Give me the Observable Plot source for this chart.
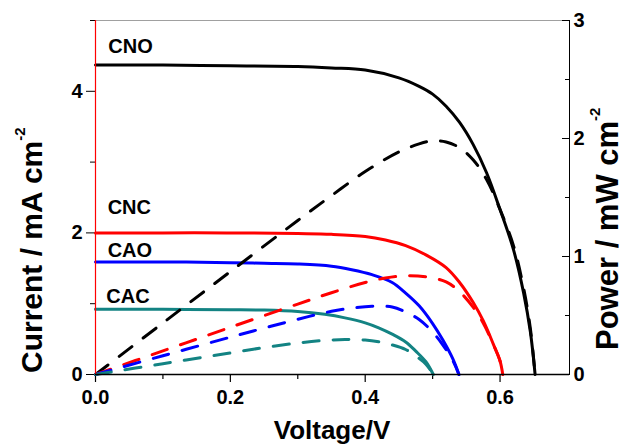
<!DOCTYPE html>
<html><head><meta charset="utf-8">
<script src="https://cdn.jsdelivr.net/npm/d3@7"></script>
<script src="https://cdn.jsdelivr.net/npm/@observablehq/plot@0.6"></script>
<style>body{margin:0;background:#fff}</style>
</head><body><div id="chart"></div>
<script>
// ---- data ----
const seriesNames = ["CNO", "CNC", "CAO", "CAC"];
const seriesColors = ["#000000", "#ff0000", "#0000ff", "#138383"];

const cnoV = [0, 0.1, 0.2, 0.3, 0.35, 0.4, 0.45, 0.48, 0.5, 0.52, 0.54, 0.56, 0.58, 0.6, 0.62, 0.635, 0.645, 0.652];
const cnoJ = [4.37, 4.37, 4.36, 4.35, 4.33, 4.30, 4.19, 4.07, 3.96, 3.79, 3.56, 3.25, 2.85, 2.33, 1.76, 1.15, 0.60, 0];
const cnoP = [0, 0.437, 0.872, 1.305, 1.516, 1.72, 1.886, 1.954, 1.98, 1.971, 1.922, 1.82, 1.653, 1.398, 1.09, 0.73, 0.387, 0];

const cncV = [0, 0.1, 0.2, 0.3, 0.35, 0.4, 0.43, 0.46, 0.49, 0.52, 0.54, 0.56, 0.575, 0.59, 0.6, 0.604];
const cncJ = [2.0, 2.0, 2.0, 1.99, 1.98, 1.95, 1.90, 1.82, 1.69, 1.51, 1.30, 1.02, 0.76, 0.43, 0.19, 0];
const cncP = [0, 0.2, 0.4, 0.597, 0.693, 0.78, 0.817, 0.837, 0.828, 0.785, 0.702, 0.571, 0.437, 0.254, 0.114, 0];

const caoV = [0, 0.1, 0.2, 0.25, 0.3, 0.35, 0.38, 0.41, 0.44, 0.46, 0.48, 0.5, 0.515, 0.53, 0.539];
const caoJ = [1.59, 1.59, 1.58, 1.57, 1.56, 1.53, 1.48, 1.41, 1.30, 1.15, 0.97, 0.72, 0.49, 0.22, 0];
const caoP = [0, 0.159, 0.316, 0.393, 0.468, 0.536, 0.562, 0.578, 0.572, 0.529, 0.466, 0.36, 0.252, 0.117, 0];

const cacV = [0, 0.1, 0.2, 0.25, 0.3, 0.34, 0.37, 0.4, 0.42, 0.44, 0.46, 0.475, 0.49, 0.501];
const cacJ = [0.92, 0.92, 0.915, 0.91, 0.89, 0.85, 0.80, 0.73, 0.66, 0.57, 0.46, 0.33, 0.18, 0];
const cacP = [0, 0.092, 0.183, 0.228, 0.267, 0.289, 0.296, 0.292, 0.277, 0.251, 0.212, 0.157, 0.088, 0];

const labelV = [0.019, 0.018, 0.018, 0.016];
const labelJ = [4.535, 2.27, 1.66, 1.01];

const xTicks = [0, 0.2, 0.4, 0.6];
const xMinor = [0.1, 0.3, 0.5];
const yTicks = [0, 2, 4];
const yMinor = [1, 3, 5];
const pTicks = [0, 1, 2, 3];
const pMinor = [0.5, 1.5, 2.5];
const xMax = 0.703, jMax = 5, pMax = 3;
const p2j = jMax / pMax; // right (power) axis mapped onto the current axis

// ---- tables ----
const allV = [cnoV, cncV, caoV, cacV];
const allJ = [cnoJ, cncJ, caoJ, cacJ];
const allP = [cnoP, cncP, caoP, cacP];
const jRows = [], pRows = [];
seriesNames.forEach((s, i) => {
  allV[i].forEach((v, k) => {
    jRows.push({s, v, y: allJ[i][k]});
    pRows.push({s, v, y: allP[i][k] * p2j});
  });
});
const labels = seriesNames.map((s, i) => ({s, v: labelV[i], y: labelJ[i]}));

const plot = Plot.plot({
  width: 624, height: 447,
  marginLeft: 95, marginRight: 55, marginTop: 20, marginBottom: 73,
  style: {fontFamily: "'Liberation Sans', Arial, sans-serif", fontSize: "20px", fontWeight: "bold", background: "#fff", overflow: "visible"},
  x: {domain: [0, xMax]},
  y: {domain: [0, jMax]},
  color: {domain: seriesNames, range: seriesColors},
  marks: [
    Plot.ruleY([jMax], {stroke: "#a0a0a0", strokeWidth: 1}),
    Plot.ruleX([xMax], {stroke: "#000", strokeWidth: 1}),
    Plot.axisX({ticks: xTicks, tickFormat: d3.format(".1f"), tickSize: 8, tickPadding: 7, label: null, strokeWidth: 1.2}),
    Plot.axisX({ticks: xMinor, tickFormat: () => "", tickSize: 5, label: null, strokeWidth: 1.2}),
    Plot.axisY({ticks: yTicks, tickFormat: d => String(d), tickSize: 9, tickPadding: 4, label: null}),
    Plot.axisY({ticks: yMinor, tickFormat: () => "", tickSize: 5, label: null}),
    Plot.axisY({anchor: "right", ticks: pTicks.map(p => p * p2j), tickFormat: d => String(Math.round(d / p2j)), tickSize: -8, tickPadding: 12, label: null, textAnchor: "start"}),
    Plot.axisY({anchor: "right", ticks: pMinor.map(p => p * p2j), tickFormat: () => "", tickSize: -5, label: null}),
    Plot.line(jRows, {x: "v", y: "y", z: "s", stroke: "s", strokeWidth: 3, curve: "catmull-rom"}),
    Plot.line(pRows, {x: "v", y: "y", z: "s", stroke: "s", strokeWidth: 3, curve: "catmull-rom", strokeDasharray: "16,14"}),
    Plot.ruleX([0], {stroke: "#ff0000", strokeWidth: 1.2}),
    Plot.ruleY([0], {stroke: "#000", strokeWidth: 1.5}),
    Plot.text(labels, {x: "v", y: "y", text: "s", textAnchor: "start", lineAnchor: "bottom", fontSize: 20, fontWeight: "bold", fill: "#000"})
  ]
});
document.getElementById("chart").appendChild(plot);

// ---- axis titles ----
const svg = d3.select(plot);
function title(x, y, size, main, supSize, supDy) {
  const t = svg.append("text")
    .attr("transform", `translate(${x},${y}) rotate(-90)`)
    .attr("font-size", size).attr("font-weight", "bold").attr("fill", "#000")
    .attr("text-anchor", "start");
  t.append("tspan").text(main);
  t.append("tspan").attr("font-size", supSize).attr("dy", supDy).text("-2");
}
title(42, 373, 30, "Current / mA cm", 15, -17);
title(618, 350, 31, "Power / mW cm", 15, -18);
svg.append("text")
  .attr("x", 332).attr("y", 439)
  .attr("text-anchor", "middle").attr("font-size", 26).attr("font-weight", "bold").attr("fill", "#000")
  .text("Voltage/V");
</script>
</body></html>
